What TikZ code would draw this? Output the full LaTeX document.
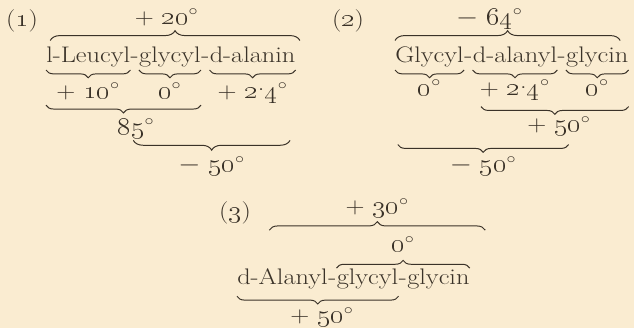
\documentclass[tikz,border=0pt]{standalone}
\usepackage{graphicx}
\usepackage{tikz}
\usetikzlibrary{decorations.pathreplacing, calc}
\definecolor{paper}{RGB}{250,236,209}
\definecolor{ink}{RGB}{58,50,40}
\newcommand\pepfont{\fontsize{16}{19}\selectfont}
\newcommand\sx[1]{\scalebox{1.17}[1]{#1}}
\newcommand\onum[1]{\oldstylenums{#1}}
\newcommand\dg{$^\circ$}
\newcommand\cdt{\raisebox{.32em}{.}}
\tikzset{
  word/.style={inner sep=0pt, anchor=base west, font=\pepfont, text=ink},
  val/.style={inner sep=0pt, anchor=base, font=\pepfont, text=ink},
  brc/.style={decorate, decoration={brace, amplitude=#1}, draw=ink, line width=.7pt},
  brc/.default=6pt
}
\begin{document}
\begin{tikzpicture}[x=0.025cm, y=0.025cm]
  \fill[paper] (0,0) rectangle (634,-328);
  \useasboundingbox (0,0) rectangle (634,-328);

  % (1) l-Leucyl-glycyl-d-alanin
  \node[val] (n1) at (22,-27) {\sx{(\onum{1})}};
  \node[word] (leu) at (46,-63) {\sx{l-Leucyl}};
  \node[word] (h11) at (leu.base east) {\sx{-}};
  \node[word] (gly) at (h11.base east) {\sx{glycyl}};
  \node[word] (h12) at (gly.base east) {\sx{-}};
  \node[word] (ala) at (h12.base east) {\sx{d-alanin}};

  \draw[brc=7pt] ([xshift=3pt, yshift=16pt]leu.base west) -- ([xshift=3pt, yshift=16pt]ala.base east)
    node[val, midway, xshift=-6pt, yshift=11.5pt] {\sx{+ \onum{20}\dg}};
  \draw[brc=5.5pt] ([yshift=-5pt]leu.base east) -- ([yshift=-5pt]leu.base west)
    node[val, midway, yshift=-20pt] {\sx{+ \onum{10}\dg}};
  \draw[brc=5.5pt] ([yshift=-5pt]gly.base east) -- ([yshift=-5pt]gly.base west)
    node[val, midway, yshift=-20pt] {\sx{\onum{0}\dg}};
  \draw[brc=5.5pt] ([yshift=-5pt]ala.base east) -- ([yshift=-5pt]ala.base west)
    node[val, midway, yshift=-20pt] {\sx{+ \onum{2}\cdt\onum{4}\dg}};
  \draw[brc=5.5pt] ([yshift=-30pt]gly.base east) -- ([yshift=-30pt]leu.base west)
    node[val, midway, xshift=9pt, yshift=-21pt] {\sx{\onum{85}\dg}};
  \draw[brc=7pt] ([xshift=-4pt, yshift=-55pt]ala.base east) -- ([xshift=-4pt, yshift=-55pt]gly.base west)
    node[val, midway, yshift=-22.5pt] {\sx{$-$ \onum{50}\dg}};

  % (2) Glycyl-d-alanyl-glycin
  \node[val] (n2) at (348,-27) {\sx{(\onum{2})}};
  \node[word] (g1) at (395,-63) {\sx{Glycyl}};
  \node[word] (h21) at (g1.base east) {\sx{-}};
  \node[word] (al) at (h21.base east) {\sx{d-alanyl}};
  \node[word] (h22) at (al.base east) {\sx{-}};
  \node[word] (g2) at (h22.base east) {\sx{glycin}};

  \draw[brc=7pt] ([yshift=16pt]g1.base west) -- ([xshift=-6pt, yshift=16pt]g2.base east)
    node[val, midway, xshift=-13pt, yshift=11.5pt] {\sx{$-$ \onum{64}\dg}};
  \draw[brc=5.5pt] ([yshift=-5pt]g1.base east) -- ([yshift=-5pt]g1.base west)
    node[val, midway, yshift=-18pt] {\sx{\onum{0}\dg}};
  \draw[brc=5.5pt] ([yshift=-5pt]al.base east) -- ([yshift=-5pt]al.base west)
    node[val, midway, yshift=-18pt] {\sx{+ \onum{2}\cdt\onum{4}\dg}};
  \draw[brc=5.5pt] ([yshift=-5pt]g2.base east) -- ([yshift=-5pt]g2.base west)
    node[val, midway, yshift=-18pt] {\sx{\onum{0}\dg}};
  \draw[brc=5.5pt] ([yshift=-31pt]g2.base east) -- ([xshift=6pt, yshift=-31pt]al.base west)
    node[val, midway, xshift=3pt, yshift=-18pt] {\sx{+ \onum{50}\dg}};
  \draw[brc=5.5pt] ([xshift=8pt, yshift=-58pt]al.base east) -- ([xshift=2pt, yshift=-58pt]g1.base west)
    node[val, midway, yshift=-19.5pt] {\sx{$-$ \onum{50}\dg}};

  % (3) d-Alanyl-glycyl-glycin
  \node[val] (n3) at (235,-219) {\sx{(\onum{3})}};
  \node[word] (da) at (237,-285) {\sx{d-Alanyl}};
  \node[word] (h31) at (da.base east) {\sx{-}};
  \node[word] (gy) at (h31.base east) {\sx{glycyl}};
  \node[word] (h32) at (gy.base east) {\sx{-}};
  \node[word] (gc) at (h32.base east) {\sx{glycin}};

  \draw[brc=6pt] ([xshift=23pt, yshift=39pt]da.base west) -- ([xshift=11pt, yshift=39pt]gc.base east)
    node[val, midway, yshift=11.5pt] {\sx{+ \onum{30}\dg}};
  \draw[brc=5.5pt] ([yshift=12pt]gy.base west) -- ([yshift=12pt]gc.base east)
    node[val, midway, yshift=11.5pt] {\sx{\onum{0}\dg}};
  \draw[brc=5.5pt] ([yshift=-8pt]gy.base east) -- ([yshift=-8pt]da.base west)
    node[val, midway, xshift=3pt, yshift=-19pt] {\sx{+ \onum{50}\dg}};
\end{tikzpicture}
\end{document}
